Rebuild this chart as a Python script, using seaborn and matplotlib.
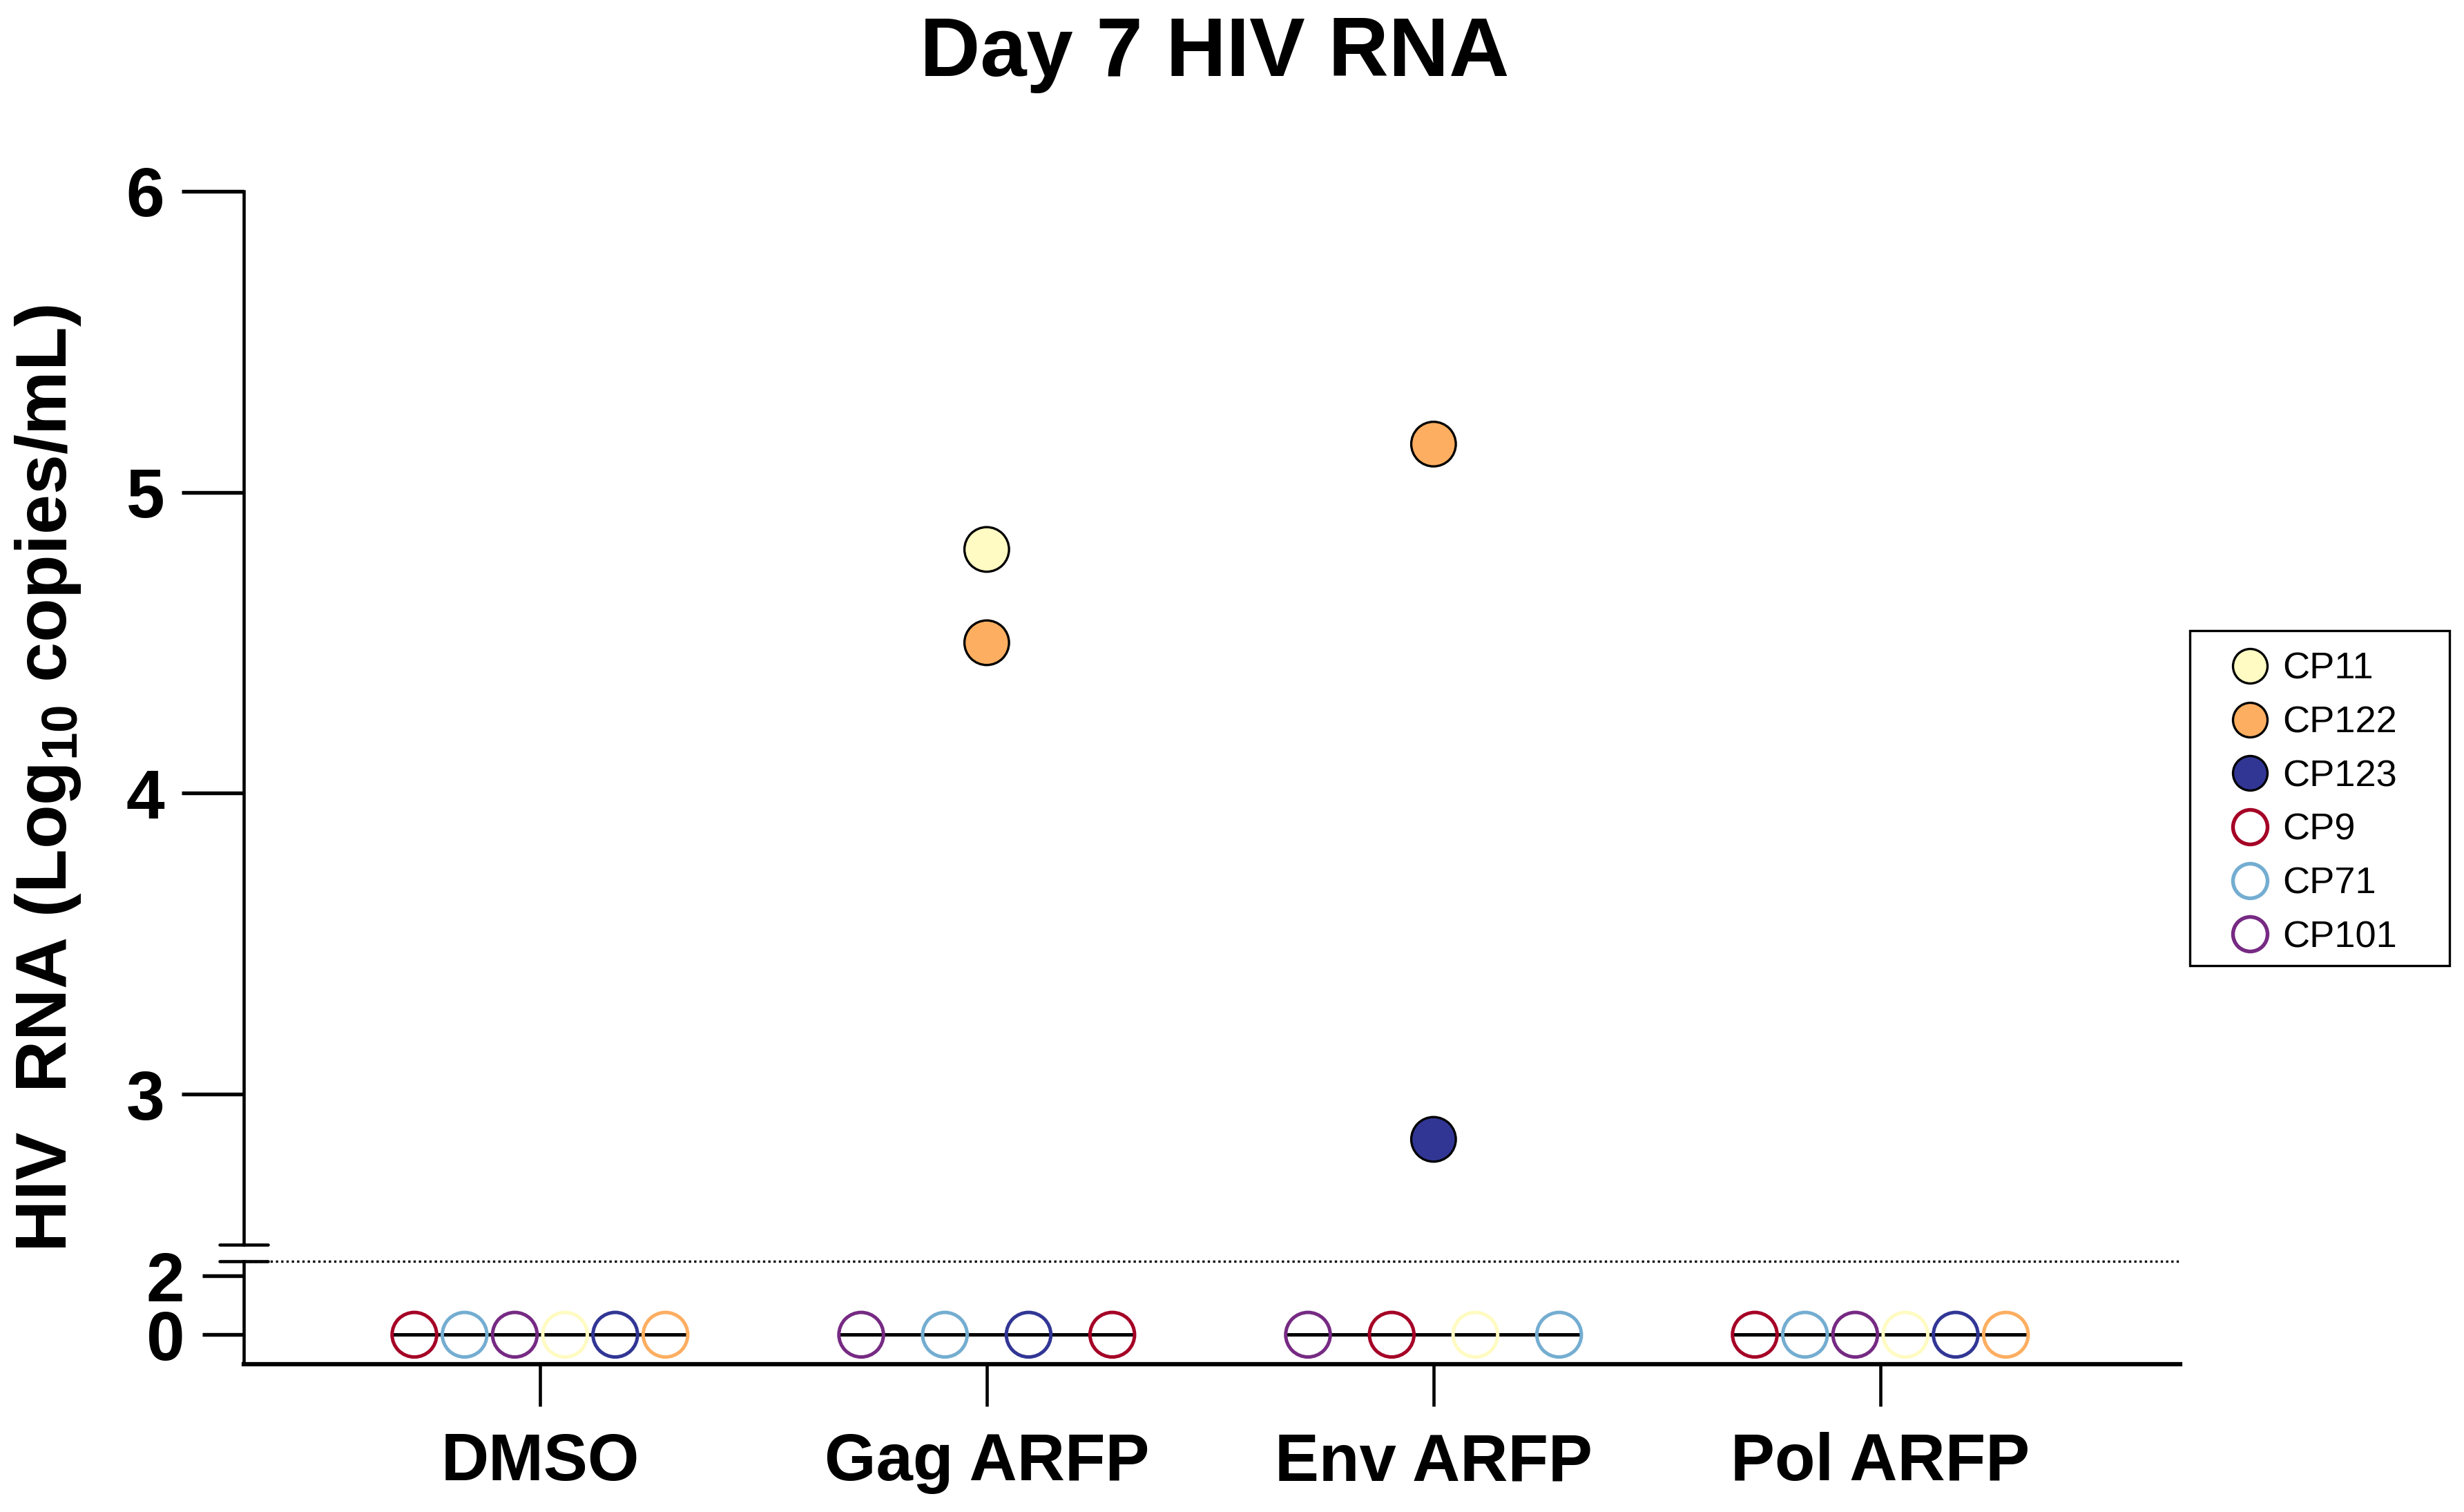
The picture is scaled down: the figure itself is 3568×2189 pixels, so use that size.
import numpy as np
import pandas as pd
import seaborn as sns
import matplotlib.pyplot as plt
from matplotlib.lines import Line2D
from matplotlib.patches import Rectangle

# categories and donors
groups = ["DMSO", "Gag ARFP", "Env ARFP", "Pol ARFP"]
donors = ["CP11", "CP122", "CP123", "CP9", "CP71", "CP101"]
donor_colors = ["#FFFBC2", "#FDAE61", "#313695", "#A50026", "#74ADD1", "#762A83"]

# HIV RNA (log10 copies/mL) per group, donors in plotted order, 0 = not detected
dmso_donor = ["CP9", "CP71", "CP101", "CP11", "CP123", "CP122"]
dmso_value = [0, 0, 0, 0, 0, 0]
gag_donor = ["CP11", "CP122", "CP101", "CP71", "CP123", "CP9"]
gag_value = [4.81, 4.50, 0, 0, 0, 0]
env_donor = ["CP122", "CP123", "CP101", "CP9", "CP11", "CP71"]
env_value = [5.16, 2.85, 0, 0, 0, 0]
pol_donor = ["CP9", "CP71", "CP101", "CP11", "CP123", "CP122"]
pol_value = [0, 0, 0, 0, 0, 0]

upper_ticks = [3, 4, 5, 6]
lower_ticks = [0, 2]

palette = dict(zip(donors, donor_colors))

# long table, undetected points spread across the group
rows = []
for gi, (d_list, v_list) in enumerate([(dmso_donor, dmso_value), (gag_donor, gag_value),
                                       (env_donor, env_value), (pol_donor, pol_value)]):
    zero_n = sum(1 for v in v_list if v == 0)
    spread = np.linspace(-0.281, 0.281, zero_n) if zero_n > 1 else [0.0]
    k = 0
    for d, v in zip(d_list, v_list):
        if v == 0:
            off = spread[k]
            k += 1
        else:
            off = 0.0
        rows.append({"group": groups[gi], "gi": gi, "x": gi + off, "donor": d, "value": v})
df = pd.DataFrame(rows)

sns.set_theme(style="ticks")
plt.rcParams["font.family"] = ["Liberation Sans", "DejaVu Sans"]
plt.rcParams["font.weight"] = "bold"
plt.rcParams["mathtext.fontset"] = "custom"
plt.rcParams["mathtext.rm"] = "Liberation Sans:bold"
plt.rcParams["mathtext.default"] = "rm"
for key in ["text.color", "axes.labelcolor", "xtick.color", "ytick.color", "axes.edgecolor"]:
    plt.rcParams[key] = "black"

fig = plt.figure(figsize=(3568 / 300, 2189 / 300), dpi=300)
ax_top = fig.add_axes([0.0989, 0.1768, 0.7859, 0.6967])
ax_bot = fig.add_axes([0.0989, 0.0978, 0.7859, 0.0681])

xlim = (-0.663, 3.671)

# median lines per group
med = df.groupby("gi")["value"].median()
for gi, m in med.items():
    target = ax_bot if m < 2.5 else ax_top
    target.hlines(m, gi - 0.33, gi + 0.33, color="black", lw=1.2, zorder=1)

detected = df[df["value"] > 0]
undetected = df[df["value"] == 0]

sns.scatterplot(data=detected, x="x", y="value", hue="donor", hue_order=donors,
                palette=palette, s=240, edgecolor="black", linewidth=0.8,
                legend=False, ax=ax_top, zorder=3)

sns.scatterplot(data=undetected, x="x", y="value", hue="donor", hue_order=donors,
                palette=palette, s=240, linewidth=1.2, legend=False, ax=ax_bot, zorder=3)
coll = ax_bot.collections[-1]
coll.set_edgecolors(coll.get_facecolors())
coll.set_facecolors("none")
coll.set_clip_on(False)

# axes styling
for ax in (ax_top, ax_bot):
    ax.set_xlim(*xlim)
    ax.set_xlabel("")
    ax.set_ylabel("")
    ax.spines["top"].set_visible(False)
    ax.spines["right"].set_visible(False)
    ax.spines["left"].set_linewidth(1.1)

ax_top.set_ylim(2.5, 6)
ax_top.set_yticks(upper_ticks)
ax_top.set_yticklabels([str(t) for t in upper_ticks])
ax_top.spines["bottom"].set_visible(False)
ax_top.set_xticks([])
ax_top.tick_params(axis="y", length=21.5, width=1.3, pad=6, labelsize=24)

ax_bot.set_ylim(-1, 2.5)
ax_bot.set_yticks(lower_ticks)
ax_bot.set_yticklabels([str(t) for t in lower_ticks])
ax_bot.set_xticks(range(len(groups)))
ax_bot.set_xticklabels(groups)
ax_bot.spines["bottom"].set_linewidth(1.5)
ax_bot.tick_params(axis="y", length=14.5, width=1.3, pad=6, labelsize=24)
ax_bot.tick_params(axis="x", length=14.6, width=1.1, pad=9, labelsize=23)
for lab in ax_bot.get_xticklabels() + ax_bot.get_yticklabels() + ax_top.get_yticklabels():
    lab.set_fontweight("bold")

# dotted line at the break
ax_bot.axhline(2.5, color="black", lw=0.8, ls=(0, (1, 1.3)), clip_on=False, zorder=2)

# axis break marks
x_ax = ax_top.get_position().x0
dx = 35 / 3568
for yy in (ax_top.get_position().y0, ax_bot.get_position().y1):
    fig.add_artist(Line2D([x_ax - dx, x_ax + dx], [yy, yy], color="black", lw=1.1,
                          transform=fig.transFigure))

# labels
fig.text(0.493, 0.9497, "Day 7 HIV RNA", ha="center", va="baseline",
         fontsize=29, fontweight="bold")
fig.text(70 / 3568, 1 - 1127 / 2189, "HIV  RNA (Log$_{10}$ copies/mL)", rotation=90,
         ha="center", va="center", fontsize=25, fontweight="bold")

# legend
has_detect = df.groupby("donor")["value"].max()
handles = []
for d, c in zip(donors, donor_colors):
    if has_detect[d] > 0:
        h = Line2D([], [], ls="", marker="o", markersize=12, markerfacecolor=c,
                   markeredgecolor="black", markeredgewidth=0.8)
    else:
        h = Line2D([], [], ls="", marker="o", markersize=12, markerfacecolor="none",
                   markeredgecolor=c, markeredgewidth=1.3)
    handles.append(h)
leg = fig.legend(handles, donors, loc="upper left",
                 bbox_to_anchor=(3231 / 3568, 1 - 944 / 2189), frameon=False,
                 borderpad=0, borderaxespad=0, handlelength=1.0, handletextpad=0.37,
                 labelspacing=0.51,
                 prop={"family": "Liberation Sans", "weight": "normal", "size": 13})
fig.add_artist(Rectangle((3171 / 3568, 1 - 1398 / 2189), 376 / 3568, 485 / 2189,
                         transform=fig.transFigure, fill=False, edgecolor="black", lw=0.8))

fig.savefig("out.png", dpi=300, facecolor="white")
